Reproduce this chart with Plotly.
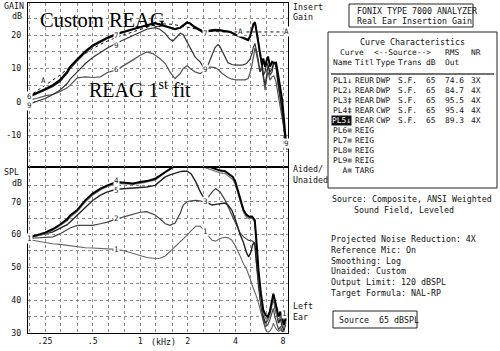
import math
import plotly.graph_objects as go

# ---------------- data (frequency in kHz) ----------------
# Top panel: insertion gain (dB)
f_top = [0.195, 0.22, 0.25, 0.28, 0.31, 0.345, 0.36, 0.40, 0.45, 0.50, 0.56, 0.62, 0.71, 0.80, 0.90,
         1.0, 1.1, 1.24, 1.33, 1.44, 1.54, 1.66, 1.79, 1.87, 1.98, 2.07, 2.22, 2.39, 2.57, 2.68,
         2.97, 3.2, 3.44, 3.7, 3.98, 4.28, 4.6, 4.81, 4.94, 5.09, 5.2, 5.32, 5.45, 5.56, 5.72,
         5.89, 6.0, 6.16, 6.3, 6.43, 6.62, 6.82, 7.0, 7.22, 7.4, 7.66, 7.9, 8.1, 8.23, 8.36, 8.5]
gain7 = [1.5, 2.5, 3.8, 5, 6.5, 9, 10.5, 12.8, 15.2, 17, 18.3, 19.3, 20.5, 21.2, 22,
         22.5, 23, 23.6, 23.2, 22.8, 22.2, 21.8, 22.2, 23, 23.8, 23.5, 22.3, 21.5, 20.3, 21.2,
         21.5, 21.4, 21.2, 21, 20.2, 19.5, 18.8, 18.5, 19.5, 21.5, 23.3, 23.8, 21, 18.6, 15,
         11, 13, 10.5, 12.5, 13.6, 10.6, 12, 11.6, 11.8, 9, 4, 0.6, -5, -9, -12.3, -13.5]
gain8 = [1.2, 2.2, 3.5, 4.6, 6, 8.5, 10, 12.3, 14.8, 16.6, 18, 19, 20.2, 21, 21.8,
         22.4, 23, 23.8, 23.4, 23, 22.5, 22, 22.4, 23.2, 24, 23.7, 22.6, 21.8, 20.8, 21.5,
         21.8, 21.6, 21.3, 21.1, 20.4, 19.7, 19, 18.8, 19.8, 21.8, 23.5, 24, 21.5, 19, 14,
         12, 8, 9, 12, 11, 9, 10, 12, 10.5, 7, 2, -2, -7, -10, -12.8, -14]

f_gain9 = [0.195, 0.22, 0.25, 0.28, 0.31, 0.345, 0.36, 0.40, 0.45, 0.50, 0.56, 0.62, 0.71, 0.80, 0.90,
           1.0, 1.1, 1.24, 1.33, 1.44, 1.54, 1.61, 1.7, 1.79, 1.87, 1.98, 2.07, 2.22, 2.39, 2.57,
           2.68, 2.8, 2.97, 3.1, 3.2, 3.44, 3.59, 3.8, 4.0, 4.28, 4.47, 4.7, 4.94, 5.09, 5.2,
           5.32, 5.45, 5.56, 5.72, 5.89, 6.0, 6.16, 6.3, 6.43, 6.62, 6.82, 7.0, 7.22, 7.4, 7.66,
           7.9, 8.1, 8.23, 8.36, 8.5]
gain9 = [-0.8, 0, 1, 2.2, 3.5, 5.5, 6.8, 9, 11.5, 13.3, 14.8, 16.2, 17.7, 18.8, 19.8,
         20.8, 21.8, 22.3, 21.8, 20.5, 18.8, 18.3, 19.5, 20.6, 20.2, 18, 16, 13.5, 12, 9.6,
         11, 13.5, 16.3, 17.2, 16.5, 13.5, 11.7, 11.2, 11, 11, 11.1, 11.5, 12.8, 14.5, 16.5,
         17.5, 15.5, 13, 9, 11, 8, 5, 8, 11, 8, 9, 12, 11, 6, 2,
         -2, -8, -11, -13.5, -14.5]

f_gain6 = [0.195, 0.22, 0.25, 0.28, 0.31, 0.345, 0.36, 0.40, 0.45, 0.50, 0.56, 0.62, 0.71, 0.80, 0.90,
           1.0, 1.1, 1.2, 1.33, 1.44, 1.54, 1.66, 1.79, 1.87, 1.98, 2.07, 2.22, 2.39, 2.57, 2.76,
           2.97, 3.1, 3.3, 3.59, 3.8, 4.0, 4.28, 4.6, 4.81, 4.94, 5.09, 5.2, 5.32, 5.45, 5.56,
           5.72, 5.89, 6.0, 6.16, 6.3, 6.43, 6.62, 6.82, 7.0, 7.22, 7.4, 7.66, 7.9, 8.1, 8.23,
           8.36, 8.5]
gain6 = [0.5, 1, 1.8, 2.2, 3, 4.2, 5, 7.2, 7.5, 7.3, 7.5, 8.8, 9.6, 11, 12.6,
         14, 15, 14.5, 13, 11.5, 9, 7, 8.5, 10, 10.8, 10, 9, 8.5, 9.3, 10.5,
         10.3, 9.8, 8.5, 7.3, 6.8, 6.6, 6.6, 6.6, 7, 8.5, 11, 14, 16.2, 14, 12,
         9, 10, 7, 3.5, 7, 9, 6.5, 7.5, 7.8, 6, 3, -1, -4, -8, -11,
         -13.5, -14]

f_target = [0.195, 0.25, 0.3, 0.36, 0.42, 0.5, 0.6, 0.75, 0.9, 1.1, 1.3, 1.6, 2.0, 2.5, 3.2, 4.0, 5.0, 6.3, 8.0, 8.6]
target = [1.5, 5, 7.5, 10.5, 13.5, 16, 18, 19.8, 21, 22.3, 23.5, 23.3, 22.5, 21.5, 21, 21, 21, 21, 21, 21]

# Bottom panel: SPL (dB)
f_spl_a = [0.195, 0.22, 0.25, 0.28, 0.31, 0.345, 0.36, 0.40, 0.45, 0.50, 0.56, 0.62, 0.71, 0.80, 0.90,
           1.0, 1.1, 1.24, 1.33, 1.44, 1.54, 1.66, 1.79, 1.9, 2.0, 2.2, 2.4, 2.57, 2.8, 3.0,
           3.2, 3.44, 3.7, 3.85, 4.0, 4.15, 4.3, 4.5, 4.7, 4.9, 5.1, 5.3, 5.45, 5.6, 5.8,
           6.0, 6.2, 6.4, 6.6, 6.8, 6.95, 7.1, 7.3, 7.5, 7.7, 7.9, 8.1, 8.3, 8.45]
spl4 = [59, 59.8, 60.6, 61.7, 63, 64.7, 65.8, 67.5, 70.5, 72.5, 74, 75, 76, 75.8, 75.6,
        76, 76.3, 77, 78, 79.3, 80, 81, 82, 82.5, 82.5, 82.5, 82, 81, 80.5, 80,
        79.5, 79.3, 78.3, 77.6, 76, 73.5, 70.5, 67.5, 66, 65.4, 65.5, 64.4, 57, 49, 42,
        37, 35.5, 35, 36.5, 40, 42, 40, 37, 35, 36.5, 34, 32.5, 34.5, 36]
spl3 = [59, 59.5, 60.2, 61.3, 62.6, 64.2, 65.3, 67, 70, 72, 73.6, 74.6, 75.6, 75.5, 75.3,
        75.6, 76, 76.6, 77.6, 79, 79.8, 80.8, 81.8, 82.3, 82.3, 82.3, 81.5, 80.4, 79.8, 79.3,
        78.8, 78.6, 77.6, 76.8, 75.2, 72.5, 69.5, 66.8, 65.3, 64.8, 65, 63.8, 56, 47, 40,
        36, 34.5, 34, 35, 38, 40.5, 38.5, 35.5, 34, 35, 33, 31.5, 33, 35]

f_spl_b = [0.195, 0.22, 0.25, 0.28, 0.31, 0.345, 0.36, 0.40, 0.45, 0.50, 0.56, 0.62, 0.71, 0.80, 0.90,
           1.0, 1.1, 1.24, 1.33, 1.44, 1.54, 1.66, 1.79, 1.87, 1.98, 2.1, 2.25, 2.4, 2.57, 2.7,
           2.85, 3.0, 3.2, 3.44, 3.59, 3.8, 4.0, 4.28, 4.5, 4.7, 4.85, 5.0, 5.15, 5.3, 5.45,
           5.6, 5.8, 6.0, 6.2, 6.4, 6.6, 6.8, 6.95, 7.1, 7.3, 7.5, 7.7, 7.9, 8.1, 8.3]
spl5 = [59, 59.5, 60.2, 60.8, 61.8, 63, 63.8, 66, 68.5, 70.4, 72, 73, 73.8, 74, 74,
        74.2, 74.5, 75, 76.3, 77.6, 78.2, 78.8, 79.2, 79.3, 79.3, 78.5, 76, 73, 70.5, 69.5,
        69, 69.2, 69.4, 69.6, 69, 67.4, 64.5, 60, 57.5, 54.5, 53.2, 54.5, 57, 57.6, 51,
        45, 39, 35, 33, 34, 36.5, 39.5, 41, 38, 35, 33, 34.5, 32, 31, 33]
spl2 = [58.8, 59, 59.2, 59.3, 60.2, 61.5, 62, 62.8, 62.8, 62.8, 63.3, 63.8, 64.8, 65.5, 66,
        66.8, 67, 66, 64.8, 63.3, 62.8, 63.5, 66.5, 69, 70, 70.3, 70.4, 70.2, 70, 71.5,
        73, 74, 73, 70.5, 68.5, 66, 63.4, 60.5, 59.3, 58.5, 58.2, 58.2, 58, 57, 50,
        44, 38, 34, 32, 32.5, 34, 36.5, 37.5, 35, 33, 31, 32, 30.5, 30.5, 33]
spl1 = [58.5, 58, 57.6, 57.2, 57, 56.7, 56.6, 56.2, 56, 55.9, 55.8, 55.7, 55.5, 55, 54.2,
        53.5, 53, 52.7, 52.8, 53.5, 54.8, 56.3, 57.8, 58.7, 59.8, 61.2, 62.6, 62.5, 61, 59.5,
        58.3, 58, 58.8, 59.2, 59, 58.3, 56.5, 53.5, 51, 49.5, 48, 46, 44, 42.5, 41,
        39, 36, 33, 31, 30.3, 30.5, 31.5, 33, 32, 31, 30.5, 31, 30.5, 31.5, 33]

# axis ticks
x_ticks = [0.2, 0.25, 0.315, 0.4, 0.5, 0.63, 0.8, 1, 1.25, 1.6, 2, 2.5, 3.15, 4, 5, 6.3, 8]
x_labels = ["", ".25", "", "", ".5", "", "", "1", "", "", "2", "", "", "4", "", "", "8"]
gain_ticks = [-15, -10, -5, 0, 5, 10, 15, 20, 25]
gain_labels = ["", "-10", "", "0", "", "10", "", "20", ""]
spl_ticks = [30, 35, 40, 45, 50, 55, 60, 65, 70, 75]
spl_labels = ["30", "", "40", "", "50", "", "60", "", "70", ""]

# curve labels (curve id, freq kHz, dB)
top_tags = [("7", 0.71, 19.8), ("9", 0.71, 16.9), ("6", 0.71, 9.6), ("A", 0.245, 6.4),
            ("6", 0.2, 1.6), ("9", 0.2, -1.1), ("7", 2.57, 20.5), ("9", 2.57, 9.6),
            ("A", 4.28, 21), ("A", 8.45, 21), ("9", 8.4, -12.5)]
bottom_tags = [("4", 0.71, 76.4), ("5", 0.71, 73.4), ("2", 0.71, 64.8), ("1", 0.71, 55.5),
               ("1", 0.2, 58.8), ("3", 2.57, 70.2), ("1", 2.57, 60.9), ("1", 8.2, 36)]

# table
table_rows = [
    ("PL1\u2193", "REUR", "DWP", "S.F.", "65", "74.6", "3X"),
    ("PL2\u2193", "REAR", "DWP", "S.F.", "65", "84.7", "4X"),
    ("PL3\u2021", "REAR", "DWP", "S.F.", "65", "95.5", "4X"),
    ("PL4\u2021", "REAR", "CWP", "S.F.", "65", "95.4", "4X"),
    ("PL5\u2193", "REAR", "CWP", "S.F.", "65", "89.3", "4X"),
    ("PL6\u2261", "REIG", "", "", "", "", ""),
    ("PL7\u2261", "REIG", "", "", "", "", ""),
    ("PL8\u2261", "REIG", "", "", "", "", ""),
    ("PL9\u2261", "REIG", "", "", "", "", ""),
    ("  A\u2261", "TARG", "", "", "", "", ""),
]
table_head = ["Name", "Titl", "Type", "Trans", "dB", "Out"]
info_lines = ["Projected Noise Reduction: 4X", "Reference Mic: On", "Smoothing: Log",
              "Unaided: Custom", "Output Limit: 120 dBSPL", "Target Formula: NAL-RP"]

# ---------------- layout helpers ----------------
W, H = 500, 351
L, R, T, B = 28, 288, 3, 333
MONO = "DejaVu Sans Mono"
FS = 8.3
TFS = 7.9


def px(x):
    return (x - L) / (R - L)


def py(y):
    return (B - y) / (B - T)


split = py(167)
fig = go.Figure()


def curve(fx, vy, axis, color, width, dash="solid"):
    fig.add_trace(go.Scatter(x=fx, y=vy, mode="lines", xaxis=axis[0], yaxis=axis[1],
                             line=dict(color=color, width=width, dash=dash),
                             hoverinfo="skip", showlegend=False))


TOP = ("x2", "y2")
BOT = ("x", "y")
curve(f_target, target, TOP, "#111", 1, "dot")
curve(f_gain6, gain6, TOP, "#555", 1.2)
curve(f_gain9, gain9, TOP, "#333", 1.2)
curve(f_top, gain8, TOP, "#222", 1.2)
curve(f_top, gain7, TOP, "#000", 2)

curve(f_spl_b, spl1, BOT, "#666", 1.1)
curve(f_spl_b, spl2, BOT, "#444", 1.2)
curve(f_spl_b, spl5, BOT, "#222", 1.4)
curve(f_spl_a, spl3, BOT, "#777", 1.2)
curve(f_spl_a, spl4, BOT, "#000", 2)

anns = []


def text(s, x, y, size=FS, anchor="left", color="#111", family=MONO, **kw):
    anns.append(dict(text=s, x=px(x), y=py(y), xref="paper", yref="paper", showarrow=False,
                     xanchor=anchor, yanchor="middle", font=dict(family=family, size=size, color=color),
                     **kw))


for t, f, v in top_tags:
    anns.append(dict(text=t, x=math.log10(f), y=v, xref="x2", yref="y2", showarrow=False,
                     font=dict(family=MONO, size=7.5, color="#222"), bgcolor="white", borderpad=0))
for t, f, v in bottom_tags:
    anns.append(dict(text=t, x=math.log10(f), y=v, xref="x", yref="y", showarrow=False,
                     font=dict(family=MONO, size=7.5, color="#222"), bgcolor="white", borderpad=0))

# axis side labels
text("GAIN", 2, 6)
text("dB", 10, 16)
text("SPL", 2, 172)
text("dB", 10, 183)
text("Insert", 291, 7)
text("Gain", 291, 17)
text("Aided/", 291, 169)
text("Unaided", 291, 180)
text("Left", 291, 306)
text("Ear", 291, 317)
text("(kHz)", 163, 342, anchor="center")

# big overlay captions
text("Custom REAG", 102, 20.5, size=20.5, anchor="center", color="#000", family="Liberation Serif")
text("REAG 1<sup>st</sup> fit", 140, 89, size=20, anchor="center", color="#000", family="Liberation Serif")

# analyzer title box
text("FONIX TYPE 7000 ANALYZER", 355, 11)
text("Real Ear Insertion Gain", 355, 21)

# characteristics table
cols = [331, 353, 374, 396, 424, 443, 469]
text("Curve Characteristics", 412, 42, anchor="center")
text("Curve", 338, 53, size=TFS)
text("<--Source-->", 372, 53, size=TFS)
text("RMS", 443, 53, size=TFS)
text("NR", 469, 53, size=TFS)
for s, x in zip(table_head, cols):
    text(s, x, 62, size=TFS)
for i, row in enumerate(table_rows):
    y = 81 + i * 9.9
    for j, (s, x) in enumerate(zip(row, cols)):
        if not s:
            continue
        if i == 4 and j == 0:
            text(s, x, y, size=TFS, color="white", bgcolor="#111", borderpad=0)
        else:
            text(s.replace(" ", "\u00a0"), x, y, size=TFS)

text("Source: Composite, ANSI Weighted", 330, 199)
text("Sound Field, Leveled", 352, 210)
for i, s in enumerate(info_lines):
    text(s, 329, 239 + i * 10.8)
text("Source\u00a0\u00a065\u00a0dBSPL", 337, 320)

shapes = [
    dict(type="rect", xref="paper", yref="paper", x0=px(349), x1=px(473), y0=py(27), y1=py(4),
         line=dict(color="#222", width=1)),
    dict(type="rect", xref="paper", yref="paper", x0=px(328), x1=px(497), y0=py(188), y1=py(32),
         line=dict(color="#222", width=1)),
    dict(type="line", xref="paper", yref="paper", x0=px(331), x1=px(494), y0=py(74), y1=py(74),
         line=dict(color="#444", width=1.5)),
    dict(type="rect", xref="paper", yref="paper", x0=px(333), x1=px(417), y0=py(328), y1=py(311),
         line=dict(color="#222", width=1)),
]

xr = [math.log10(0.195), math.log10(8.6)]
xcommon = dict(type="log", range=xr, tickvals=x_ticks, showgrid=True, gridcolor="#8c8c8c",
               griddash="dot", gridwidth=1, showline=True, linecolor="#000", linewidth=1,
               mirror=True, ticks="", zeroline=False,
               tickfont=dict(family=MONO, size=FS, color="#111"))
ycommon = dict(showgrid=True, gridcolor="#8c8c8c", griddash="dot", gridwidth=1, showline=True,
               linecolor="#000", linewidth=1, mirror=True, ticks="", zeroline=False,
               tickfont=dict(family=MONO, size=FS, color="#111"), ticklabelstandoff=4)

fig.update_layout(
    width=W, height=H, margin=dict(l=L, r=W - R, t=T, b=H - B),
    paper_bgcolor="white", plot_bgcolor="white", showlegend=False,
    xaxis=dict(**xcommon, ticktext=x_labels, anchor="y", domain=[0, 1], showticklabels=True),
    xaxis2=dict(**xcommon, anchor="y2", domain=[0, 1], showticklabels=False, matches="x"),
    yaxis=dict(**ycommon, domain=[0, split], range=[30, 80.6], tickvals=spl_ticks, ticktext=spl_labels,
               anchor="x"),
    yaxis2=dict(**ycommon, domain=[split, 1], range=[-19.6, 29.7], tickvals=gain_ticks,
                ticktext=gain_labels, anchor="x2"),
    annotations=anns, shapes=shapes,
)

fig.write_html("out.html")
